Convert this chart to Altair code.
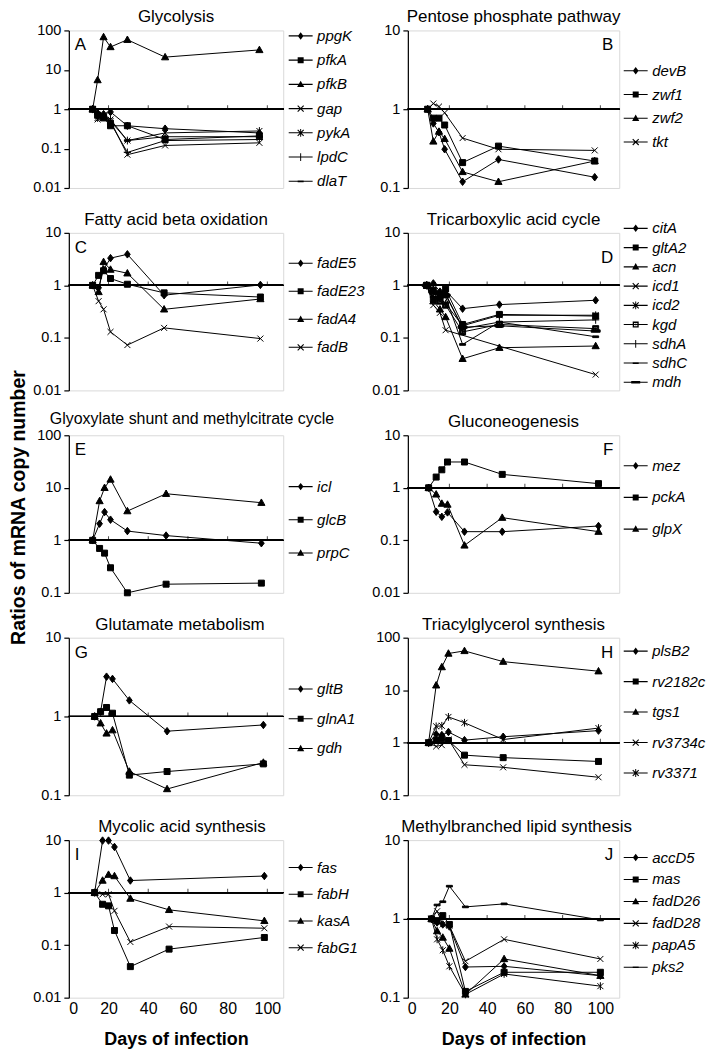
import math
import altair as alt
import pandas as pd

FONT = "Liberation Sans"

# ---------------- data ----------------
A_days = [12, 14.5, 17.5, 21, 29.5, 48.5, 96]
ppgK = [1, 0.8, 0.75, 0.85, 0.38, 0.32, 0.25]
pfkA = [1, 0.7, 0.6, 0.38, 0.38, 0.17, 0.21]
pfkB = [1, 5.5, 68, 38, 58, 21, 32]
gap = [1, 0.55, 0.6, 0.5, 0.07, 0.12, 0.14]
pykA = [1, 0.6, 0.7, 0.55, 0.16, 0.25, 0.28]
lpdC = [1, 0.75, 0.65, 0.45, 0.08, 0.16, 0.17]
dlaT = [1, 0.8, 0.7, 0.5, 0.16, 0.2, 0.2]

B_days = [8.5, 11.5, 14.5, 17.5, 27, 46, 97]
devB = [1, 0.66, 0.51, 0.31, 0.12, 0.23, 0.137]
zwf1 = [1, 0.77, 0.77, 0.63, 0.21, 0.34, 0.22]
zwf2 = [1, 0.39, 0.52, 0.42, 0.16, 0.12, 0.22]
tkt = [1, 1.18, 1.08, 0.9, 0.43, 0.31, 0.30]

C_days = [12, 15, 17.5, 21, 29.5, 48, 96.5]
fadE5 = [1, 0.9, 2.0, 3.3, 3.9, 0.65, 1.02]
fadE23 = [1, 1.55, 1.9, 1.35, 1.05, 0.72, 0.6]
fadA4 = [1, 0.75, 2.8, 2.0, 1.7, 0.35, 0.55]
fadB = [1, 0.5, 0.35, 0.13, 0.073, 0.155, 0.097]

D_days = [8, 11.5, 15, 18, 27, 46.5, 97.5]
citA = [1, 1.09, 0.76, 0.8, 0.36, 0.43, 0.52]
gltA2 = [1, 0.8, 0.65, 0.85, 0.18, 0.28, 0.26]
acn = [1, 0.5, 0.35, 0.25, 0.04, 0.065, 0.07]
icd1 = [1, 0.42, 0.3, 0.14, None, None, 0.02]
icd2 = [1, 0.55, 0.6, 0.45, 0.17, 0.27, 0.27]
kgd = [1, 0.55, 0.5, 0.42, 0.13, 0.18, 0.15]
sdhA = [1, 0.6, 0.6, 0.7, 0.15, 0.2, 0.22]
sdhC = [1, 0.7, 0.55, 0.6, 0.075, 0.2, 0.105]
mdh = [1, 0.75, 0.7, 0.65, 0.16, 0.17, 0.135]

E_days = [12, 15.5, 18, 21, 29.5, 49, 97]
icl = [1, 2.07, 3.45, 2.47, 1.5, 1.23, 0.88]
glcB = [1, 0.7, 0.57, 0.3, 0.1, 0.146, 0.153]
prpC = [1, 5.6, 10, 14.4, 3.6, 7.7, 5.2]

F_days = [9, 13, 16, 19, 28, 48, 99]
mez = [1, 0.35, 0.28, 0.34, 0.146, 0.146, 0.187]
pckA = [1, 1.6, 2.2, 3.1, 3.1, 1.8, 1.2]
glpX = [1, 0.75, 0.5, 0.48, 0.08, 0.27, 0.146]

G_days = [13, 16, 19, 22, 30.5, 49.5, 98]
gltB = [1, 1.15, 3.2, 3.0, 1.6, 0.65, 0.78]
glnA1 = [1, 1.15, 1.3, 1.1, 0.18, 0.2, 0.25]
gdh = [1, 0.82, 0.61, 0.67, 0.2, 0.12, 0.26]

H_days = [9, 13, 16, 19.5, 28, 48.5, 99]
plsB2 = [1, 1.45, 1.4, 1.6, 1.12, 1.3, 1.7]
rv2182c = [1, 1.1, 1.2, 1.1, 0.58, 0.52, 0.44]
tgs1 = [1, 12.4, 27.6, 50, 56, 35, 23]
rv3734c = [1, 0.85, 0.9, 1.15, 0.38, 0.34, 0.22]
rv3371 = [1, 2.05, 2.1, 3.1, 2.4, 1.15, 1.9]

I_days = [13, 17, 20, 23, 31, 50.5, 98.5]
fas = [1, 9.8, 9.8, 7.4, 1.7, None, 2.07]
fabH = [1, 0.6, 0.56, 0.19, 0.039, 0.084, 0.14]
kasA = [1, 1.7, 2.2, 2.07, 0.77, 0.47, 0.29]
fabG1 = [1, 0.93, 0.93, 0.45, 0.115, 0.226, 0.21]

J_days = [10.5, 13.5, 16.5, 20, 28.5, 49, 100]
accD5 = [1, 0.9, 0.85, 0.8, 0.245, 0.25, 0.19]
mas = [1, 0.95, 1.1, 0.85, 0.12, 0.21, 0.21]
fadD26 = [1, 0.7, 0.58, 0.42, 0.11, 0.31, 0.19]
fadD28 = [1, 1.25, 0.85, 0.82, 0.29, 0.55, 0.31]
papA5 = [1, 0.55, 0.4, 0.25, 0.11, 0.2, 0.14]
pks2 = [1, 1.5, 1.65, 2.6, 1.42, 1.55, 0.97]

x_ticks = [0, 20, 40, 60, 80, 100]

# ---------------- styling ----------------
LW, RW, H = 215, 212, 158
# plot markers (stroked + filled)
SHAPES = {
    "diamond": "M0,-1.25L0.95,0L0,1.25L-0.95,0Z",
    "square": "M-1,-1H1V1H-1Z",
    "triangle": "M0,-1.25L1.2,0.9H-1.2Z",
    "x": "M-1,-1L1,1M-1,1L1,-1",
    "star": "M-1,-1L1,1M-1,1L1,-1M0,-1.3V1.3",
    "plus": "M-1.2,0H1.2M0,-1.3V1.3",
    "dash": "M-1,-0.28H1V0.28H-1Z",
    "longdash": "M-1.5,-0.4H1.5V0.4H-1.5Z",
    "boxdot": "M-1,-1H1V1H-1ZM-0.55,-0.55V0.55H0.55V-0.55ZM-0.25,-0.25H0.25V0.25H-0.25Z",
}
# legend symbols: all filled outlines (line segment through the marker)
XF = ("M-0.873,-1.127L1.127,0.873L0.873,1.127L-1.127,-0.873Z"
      "M-0.873,1.127L-1.127,0.873L0.873,-1.127L1.127,-0.873Z")
VB = "M-0.16,-1.3H0.16V1.3H-0.16Z"
LEG_SHAPES = {
    "diamond": SHAPES["diamond"],
    "square": SHAPES["square"],
    "triangle": SHAPES["triangle"],
    "x": XF,
    "star": XF + VB,
    "plus": VB,
    "dash": SHAPES["dash"],
    "longdash": SHAPES["longdash"],
    "boxdot": SHAPES["boxdot"],
}
LEG_LINE = "M-4,-0.18H4V0.18H-4Z"

PANELS = [
    dict(letter="A", title="Glycolysis", days=A_days, ydom=[0.01, 100], leg=(6, 24.5),
         series=[("ppgK", ppgK, "diamond"), ("pfkA", pfkA, "square"), ("pfkB", pfkB, "triangle"),
                 ("gap", gap, "x"), ("pykA", pykA, "star"), ("lpdC", lpdC, "plus"), ("dlaT", dlaT, "dash")]),
    dict(letter="B", title="Pentose phosphate pathway", days=B_days, ydom=[0.1, 10], leg=(41, 24),
         series=[("devB", devB, "diamond"), ("zwf1", zwf1, "square"), ("zwf2", zwf2, "triangle"), ("tkt", tkt, "x")]),
    dict(letter="C", title="Fatty acid beta oxidation", days=C_days, ydom=[0.01, 10], leg=(31, 28.3),
         series=[("fadE5", fadE5, "diamond"), ("fadE23", fadE23, "square"), ("fadA4", fadA4, "triangle"),
                 ("fadB", fadB, "x")]),
    dict(letter="D", title="Tricarboxylic acid cycle", days=D_days, ydom=[0.01, 10], leg=(-4, 19.5),
         series=[("citA", citA, "diamond"), ("gltA2", gltA2, "square"), ("acn", acn, "triangle"),
                 ("icd1", icd1, "x"), ("icd2", icd2, "star"), ("kgd", kgd, "boxdot"), ("sdhA", sdhA, "plus"),
                 ("sdhC", sdhC, "dash"), ("mdh", mdh, "longdash")]),
    dict(letter="E", title="Glyoxylate shunt and methylcitrate cycle", days=E_days, ydom=[0.1, 100], leg=(52, 33.5),
         series=[("icl", icl, "diamond"), ("glcB", glcB, "square"), ("prpC", prpC, "triangle")]),
    dict(letter="F", title="Gluconeogenesis", days=F_days, ydom=[0.01, 10], leg=(31, 32),
         series=[("mez", mez, "diamond"), ("pckA", pckA, "square"), ("glpX", glpX, "triangle")]),
    dict(letter="G", title="Glutamate metabolism", days=G_days, ydom=[0.1, 10], leg=(52, 30),
         series=[("gltB", gltB, "diamond"), ("glnA1", glnA1, "square"), ("gdh", gdh, "triangle")]),
    dict(letter="H", title="Triacylglycerol synthesis", days=H_days, ydom=[0.1, 100], leg=(14, 30.75),
         series=[("plsB2", plsB2, "diamond"), ("rv2182c", rv2182c, "square"), ("tgs1", tgs1, "triangle"),
                 ("rv3734c", rv3734c, "x"), ("rv3371", rv3371, "star")]),
    dict(letter="I", title="Mycolic acid synthesis", days=I_days, ydom=[0.01, 10], leg=(28, 27),
         series=[("fas", fas, "diamond"), ("fabH", fabH, "square"), ("kasA", kasA, "triangle"),
                 ("fabG1", fabG1, "x")]),
    dict(letter="J", title="Methylbranched lipid synthesis", days=J_days, ydom=[0.1, 10], leg=(18, 22.2),
         series=[("accD5", accD5, "diamond"), ("mas", mas, "square"), ("fadD26", fadD26, "triangle"),
                 ("fadD28", fadD28, "x"), ("papA5", papA5, "star"), ("pks2", pks2, "dash")]),
]

TITLE_SHIFT = {"E": 16, "G": 4, "I": 6, "J": 3}


def make_panel(i, p):
    right = i % 2 == 1
    bottom = i >= 8
    width = RW if right else LW
    xdom = [-2, 110] if right else [0, 108]
    rows = []
    for name, vals, _ in p["series"]:
        for d, v in zip(p["days"], vals):
            if v is not None:
                rows.append({"day": d, "val": v, "gene": name})
    df = pd.DataFrame(rows)
    genes = [s[0] for s in p["series"]]
    plot_paths = [SHAPES[s[2]] for s in p["series"]]
    leg_paths = [LEG_LINE + LEG_SHAPES[s[2]] for s in p["series"]]
    lo, hi = math.log10(p["ydom"][0]), math.log10(p["ydom"][1])
    yvals = [10.0 ** k for k in range(int(round(lo)), int(round(hi)) + 1)]

    xs = alt.Scale(domain=xdom, nice=False, zero=False)
    ys = alt.Scale(type="log", domain=p["ydom"], nice=False)

    yaxis_kw = dict(values=yvals, format="~g", grid=False, domainColor="black", domainWidth=1.2,
                    tickColor="black", tickSize=5, tickWidth=1.2, labelFontSize=14.5, labelPadding=3,
                    labelColor="black", labelFont=FONT)
    if p["letter"] == "E":
        yaxis_kw.update(title="Ratios of mRNA copy number", titleFontSize=19.5, titleFontWeight="bold",
                        titleFont=FONT, titleColor="black", titleX=-40, titleY=72, titleAngle=270,
                        titleAlign="center", titleBaseline="bottom")
    else:
        yaxis_kw.update(title=None)
    yax = alt.Axis(**yaxis_kw)

    if bottom:
        xax = alt.Axis(orient="bottom", values=x_ticks, format="d", domain=False, ticks=False,
                       labelFontSize=16, labelPadding=3, labelColor="black", labelFont=FONT, grid=False,
                       title="Days of infection", titleFontSize=18, titleFontWeight="bold", titleFont=FONT,
                       titleColor="black", titlePadding=14)
    else:
        xax = None

    def X():
        return alt.X("day:Q", scale=xs, axis=xax)

    def Y():
        return alt.Y("val:Q", scale=ys, axis=yax)

    base = alt.Chart(df)
    one_line = base.mark_rule(color="black", strokeWidth=1).encode(
        y=alt.Y(datum=1, scale=ys, axis=yax)
    )
    one_ticks = alt.Chart(pd.DataFrame({"day": x_ticks[1:]})).mark_tick(
        orient="vertical", size=4, thickness=1, yOffset=-2, color="black"
    ).encode(x=X(), y=alt.Y(datum=1, scale=ys, axis=yax))
    lines = base.mark_line(color="black", strokeWidth=1).encode(x=X(), y=Y(), detail="gene:N")
    pts = base.mark_point(filled=True, fill="black", stroke="black", strokeWidth=1, opacity=1, size=36).encode(
        x=X(), y=Y(),
        shape=alt.Shape("gene:N", scale=alt.Scale(domain=genes, range=plot_paths), legend=None),
    )
    first, spacing = p["leg"]
    line_start = width + (7 if not right else 6)
    legend = alt.Legend(orient="none", legendX=line_start + 3, legendY=first - 8, rowPadding=spacing - 16.2,
                        labelOffset=9, title=None, labelFontSize=15, labelFontStyle="italic",
                        labelFont=FONT, labelColor="black", symbolSize=36, symbolStrokeWidth=0,
                        symbolFillColor="black", symbolStrokeColor="black", padding=0)
    leg = base.transform_filter("false").mark_point(filled=True, fill="black", stroke="black",
                                                     strokeWidth=0, opacity=1, size=36).encode(
        x=X(), y=Y(),
        shape=alt.Shape("gene:N", scale=alt.Scale(domain=genes, range=leg_paths), legend=legend),
    )
    letter = alt.Chart(pd.DataFrame({"t": [p["letter"]]})).mark_text(
        fontSize=17, font=FONT, align="right" if right else "left", baseline="alphabetic", color="black"
    ).encode(
        text="t:N",
        x=alt.value(width - 6 if right else 6),
        y=alt.value(30 if p["letter"] == "D" else 20),
    )
    tsize = 16 if p["letter"] == "E" else 17
    ty = -11 if p["letter"] == "E" else -8
    title = alt.Chart(pd.DataFrame({"t": [p["title"]]})).mark_text(
        fontSize=tsize, font=FONT, align="center", baseline="alphabetic", color="black"
    ).encode(text="t:N", x=alt.value(width / 2 + TITLE_SHIFT.get(p["letter"], 0)), y=alt.value(ty))
    return (
        alt.layer(one_line, one_ticks, lines, pts, leg, letter, title)
        .resolve_scale(shape="independent")
        .resolve_legend(shape="independent")
        .properties(width=width, height=H)
    )


panels = [make_panel(i, p) for i, p in enumerate(PANELS)]

chart = (
    alt.concat(*panels, columns=2, spacing={"row": 45, "column": 125}, bounds="flush",
               padding={"left": 0, "top": -2, "right": 0, "bottom": 0}, background="white")
    .resolve_scale(shape="independent")
    .resolve_legend(shape="independent")
    .configure_view(stroke="#d9d9d9", strokeWidth=1)
)

chart.save("out.html", embed_options={"renderer": "svg", "actions": False})
